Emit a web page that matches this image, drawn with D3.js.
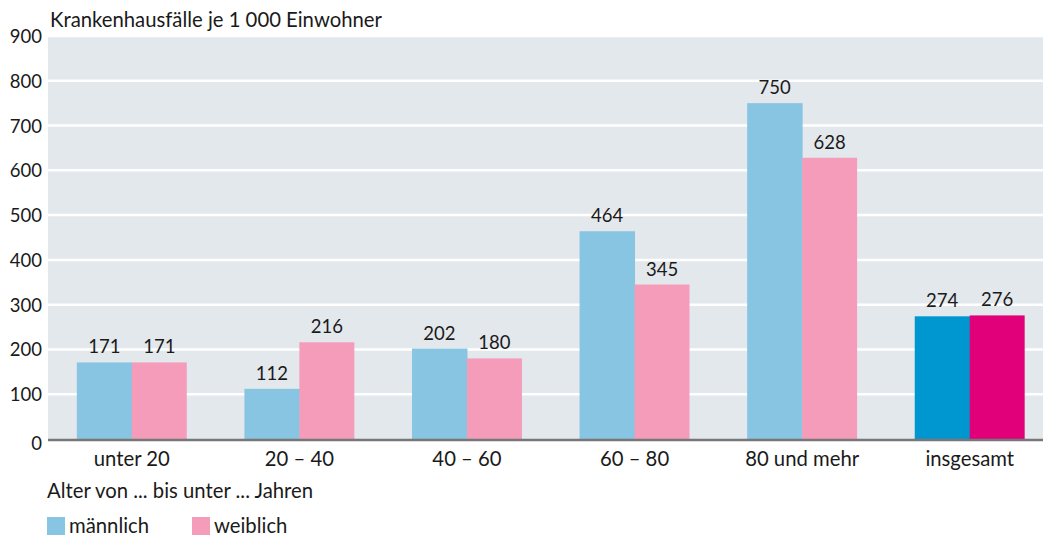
<!DOCTYPE html>
<html><head><meta charset="utf-8">
<script src="https://cdn.jsdelivr.net/npm/d3@7"></script>
<style>
body{margin:0;background:#fff;}
text{font-family:"Lato","Open Sans",sans-serif;fill:#1a1a1a;}
</style></head>
<body><svg id="c" width="1043" height="536"></svg>
<script>
const categories = ["unter 20","20 – 40","40 – 60","60 – 80","80 und mehr","insgesamt"];
const maleValues = [171,112,202,464,750,274];
const femaleValues = [171,216,180,345,628,276];
const yTicks = [0,100,200,300,400,500,600,700,800,900];
const seriesNames = ["männlich","weiblich"];

(function(){
const svg = d3.select("#c");
const pL = 48, pR = 1053.5, pT = 36, pB = 439;
const numFS = 18.5, txtFS = 20.3;
const x = d3.scaleBand().domain(categories).range([pL,pR]).paddingInner(0.344).paddingOuter(0.172);
const y = d3.scaleLinear().domain([0,900]).range([pB,pT]);
const maleC = "#87c5e3", femaleC = "#f49cba", maleTot = "#0097d0", femaleTot = "#e2007a";

svg.append("rect").attr("x",pL).attr("y",pT).attr("width",1043-pL).attr("height",pB-pT).attr("fill","#e3e8ec");
svg.append("g").selectAll("line").data(yTicks.filter(d=>d>0)).join("line")
  .attr("x1",pL).attr("x2",1043).attr("y1",d=>y(d)).attr("y2",d=>y(d))
  .attr("stroke","#fff").attr("stroke-width",2.5);

const yAxis = d3.axisLeft(y).tickValues(yTicks).tickSize(0).tickPadding(6);
const ga = svg.append("g").attr("transform",`translate(${pL},0)`).call(yAxis);
ga.select(".domain").remove();
ga.selectAll("text").attr("font-size",numFS).attr("font-family","Lato").attr("fill","#1a1a1a").attr("dy","0.35em").attr("x",-6);
ga.selectAll(".tick").filter(d=>d===0).select("text").attr("dy","0.55em");

const bw = x.bandwidth()/2;
const data = categories.map((c,i)=>({c,i,m:maleValues[i],f:femaleValues[i]}));
const g = svg.append("g");
data.forEach(d=>{
  const tot = d.i===categories.length-1;
  const x0 = x(d.c);
  [[d.m,0,tot?maleTot:maleC],[d.f,1,tot?femaleTot:femaleC]].forEach(([v,k,col])=>{
    g.append("rect").attr("x",x0+k*bw).attr("y",y(v)).attr("width",bw+(k===0?0.5:0)).attr("height",y(0)-y(v)).attr("fill",col);
    g.append("text").attr("x",x0+k*bw+bw/2).attr("y",y(v)-9).attr("text-anchor","middle").attr("font-size",numFS).text(v);
  });
});

svg.append("line").attr("x1",pL).attr("x2",1043).attr("y1",pB+1).attr("y2",pB+1).attr("stroke","#777").attr("stroke-width",2.5);

const xAxis = d3.axisBottom(x).tickSize(0).tickPadding(0);
const gx = svg.append("g").attr("transform",`translate(0,${pB})`).call(xAxis);
gx.select(".domain").remove();
gx.selectAll("text").attr("font-size",txtFS).attr("font-family","Lato").attr("fill","#1a1a1a").attr("y",27).attr("dy",0);

svg.append("text").attr("x",50).attr("y",27).attr("font-size",txtFS).text("Krankenhausfälle je 1 000 Einwohner");
svg.append("text").attr("x",47).attr("y",498).attr("font-size",txtFS).text("Alter von ... bis unter ... Jahren");

const legX = [47,192];
seriesNames.forEach((n,i)=>{
  svg.append("rect").attr("x",legX[i]).attr("y",517).attr("width",18).attr("height",18).attr("fill",i===0?maleC:femaleC);
  svg.append("text").attr("x",legX[i]+22).attr("y",533).attr("font-size",txtFS).text(n);
});
})();
</script></body></html>
